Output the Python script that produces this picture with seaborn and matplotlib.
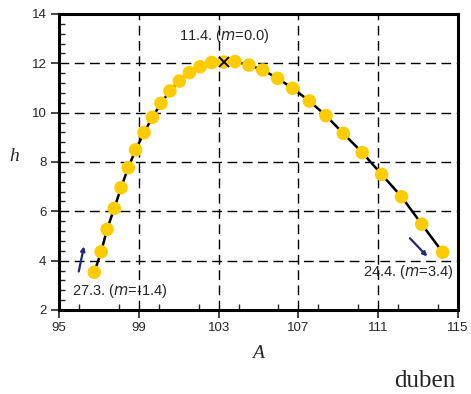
import matplotlib
matplotlib.use("Agg")
import matplotlib.pyplot as plt
import seaborn as sns
import pandas as pd
from matplotlib.ticker import MultipleLocator

# data
A = [96.77, 97.11, 97.41, 97.77, 98.11, 98.47, 98.84, 99.26, 99.68, 100.11,
     100.56, 101.03, 101.53, 102.07, 102.65, 103.27, 103.82, 104.52, 105.21,
     105.96, 106.71, 107.55, 108.38, 109.25, 110.2, 111.17, 112.17, 113.18, 114.23]
h = [3.53, 4.36, 5.27, 6.12, 6.96, 7.77, 8.49, 9.19, 9.81, 10.38,
     10.88, 11.28, 11.62, 11.86, 12.03, 12.05, 12.07, 11.93, 11.73,
     11.39, 10.99, 10.47, 9.88, 9.16, 8.38, 7.50, 6.59, 5.48, 4.34]
peak = (103.27, 12.05)
x_ticks = [95, 99, 103, 107, 111, 115]
y_ticks = [2, 4, 6, 8, 10, 12, 14]
labels = ["11.4. ($\\it{m}$=0.0)", "27.3. ($\\it{m}$=-1.4)", "24.4. ($\\it{m}$=3.4)"]

df = pd.DataFrame({"A": A, "h": h})

sns.set_style("white")
plt.rcParams["font.family"] = ["Liberation Sans", "DejaVu Sans"]

fig = plt.figure(figsize=(4.71, 3.94), dpi=100)
ax = fig.add_axes([0.1253, 0.2132, 0.9724 - 0.1253, 0.9645 - 0.2132])

sns.lineplot(data=df, x="A", y="h", sort=False, color="black", lw=1.8, ax=ax, zorder=2)
sns.scatterplot(data=df, x="A", y="h", color="#FFCC00", s=95, edgecolor="none",
                marker="o", ax=ax, zorder=3)
ax.plot([peak[0]], [peak[1]], marker="x", color="black", ms=6.5, mew=1.3, zorder=4)

ax.set_xlim(95, 115)
ax.set_ylim(2, 14)
ax.set_xticks(x_ticks)
ax.set_yticks(y_ticks)
ax.xaxis.set_minor_locator(MultipleLocator(2))
ax.yaxis.set_minor_locator(MultipleLocator(0.4))
ax.tick_params(which="major", direction="out", length=6, width=1.2, labelsize=9.5, pad=3,
               bottom=True, left=True)
ax.tick_params(which="minor", direction="in", length=4, width=1.0, bottom=True, left=True)

for v in x_ticks[1:-1]:
    ax.axvline(v, color="black", lw=1.0, ls=(0, (7, 4)), zorder=1)
for v in y_ticks[1:-1]:
    ax.axhline(v, color="black", lw=1.0, ls=(0, (7, 4)), zorder=1)

for s in ax.spines.values():
    s.set_visible(True)
    s.set_linewidth(2.2)
    s.set_color("black")

ax.set_xlabel("")
ax.set_ylabel("")
fig.text(14 / 471, 1 - 157 / 394, "h", fontsize=14, style="italic",
         family="Liberation Serif", ha="center", va="center")
fig.text(258 / 471, 1 - 353 / 394, "A", fontsize=14, style="italic",
         family="Liberation Serif", ha="center", va="center")
fig.text(425 / 471, 1 - 381 / 394, "duben", fontsize=18,
         family="Liberation Serif", ha="center", va="center")

ax.text(103.3, 13.1, labels[0], fontsize=10.5, ha="center", va="center")
ax.text(95.65, 2.75, labels[1], fontsize=10.5, ha="left", va="center")
ax.text(114.8, 3.55, labels[2], fontsize=10.5, ha="right", va="center")

ax.annotate("", xy=(96.25, 4.58), xytext=(95.99, 3.56),
            arrowprops=dict(arrowstyle="-|>", color="#1F2A7A", lw=1.6,
                            mutation_scale=6, shrinkA=0, shrinkB=0))
ax.annotate("", xy=(113.46, 4.17), xytext=(112.59, 4.91),
            arrowprops=dict(arrowstyle="-|>", color="#1F2A7A", lw=1.6,
                            mutation_scale=6, shrinkA=0, shrinkB=0))

fig.savefig("out.png", dpi=100)
